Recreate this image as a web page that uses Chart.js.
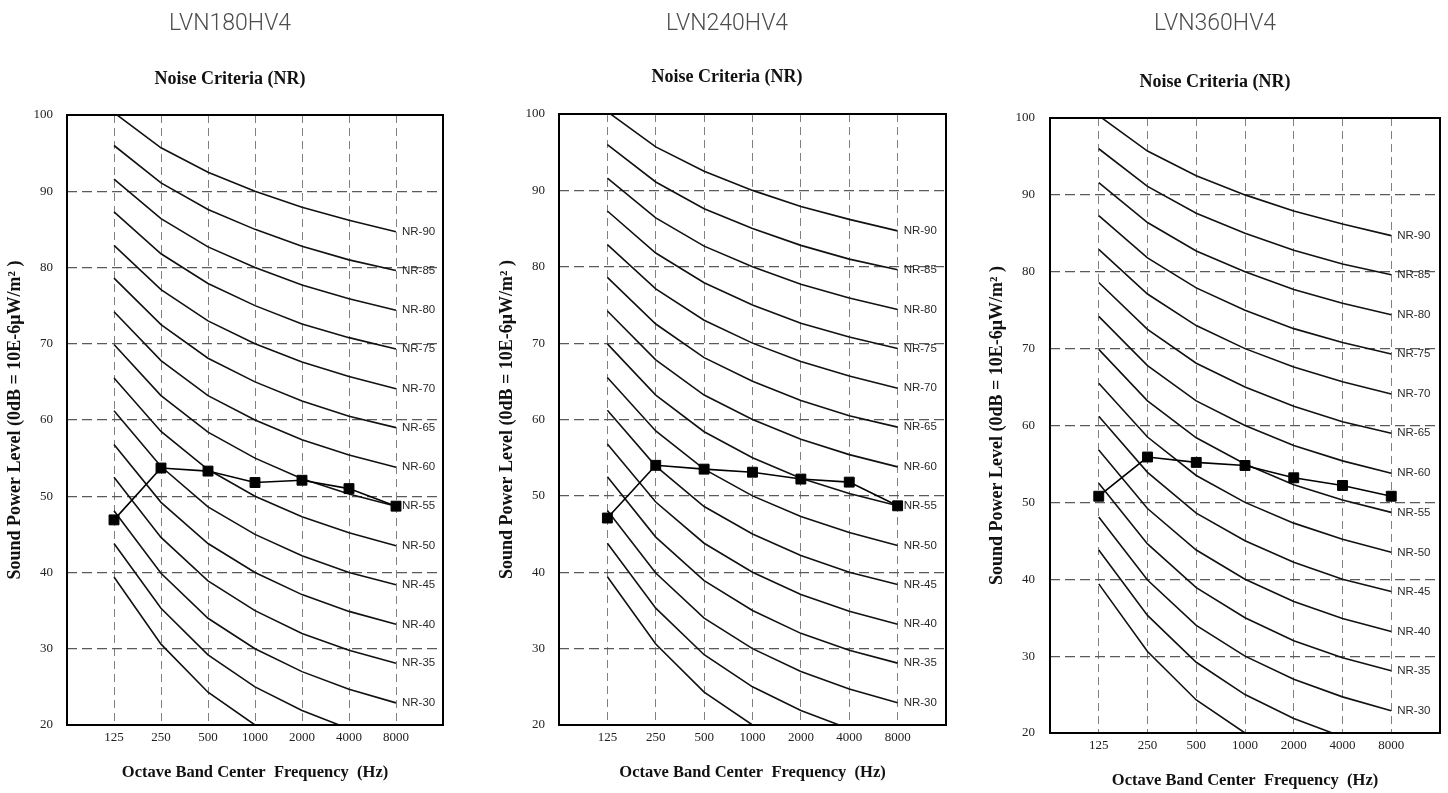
<!DOCTYPE html>
<html>
<head>
<meta charset="utf-8">
<script src="https://cdn.jsdelivr.net/npm/chart.js@4.4.1/dist/chart.umd.min.js"></script>
<style>
html,body{margin:0;padding:0;background:#fff;overflow:hidden;}
body{width:1448px;height:793px;position:relative;}
.box{position:absolute;top:0;height:793px;}
</style>
</head>
<body>
<div class="box" id="b0"><canvas id="c0"></canvas></div>
<div class="box" id="b1"><canvas id="c1"></canvas></div>
<div class="box" id="b2"><canvas id="c2"></canvas></div>
<script>
// ---- data ----
const frequencies = ['125', '250', '500', '1000', '2000', '4000', '8000'];
const chartTitles = ['LVN180HV4', 'LVN240HV4', 'LVN360HV4'];
const subtitleText = 'Noise Criteria (NR)';
const xAxisTitle = 'Octave Band Center  Frequency  (Hz)';
const yAxisTitle = 'Sound Power Level (0dB = 10E-6\u03bcW/m\u00b2 )';
const yMin = 20, yMax = 100, yStep = 10;

const nrNames = ['NR-20','NR-25','NR-30','NR-35','NR-40','NR-45','NR-50','NR-55','NR-60','NR-65','NR-70','NR-75','NR-80','NR-85','NR-90'];
const nr20 = [39.4, 30.6, 24.3, 20.0, 16.8, 14.4, 12.6];
const nr25 = [43.8, 35.3, 29.2, 25.0, 21.9, 19.5, 17.8];
const nr30 = [48.1, 39.9, 34.0, 30.0, 27.0, 24.7, 22.9];
const nr35 = [52.5, 44.6, 38.9, 35.0, 32.0, 29.8, 28.1];
const nr40 = [56.8, 49.2, 43.8, 40.0, 37.1, 34.9, 33.2];
const nr45 = [61.2, 53.9, 48.6, 45.0, 42.2, 40.0, 38.4];
const nr50 = [65.5, 58.5, 53.5, 50.0, 47.3, 45.2, 43.5];
const nr55 = [69.9, 63.2, 58.4, 55.0, 52.3, 50.3, 48.7];
const nr60 = [74.2, 67.8, 63.2, 60.0, 57.4, 55.4, 53.8];
const nr65 = [78.6, 72.5, 68.1, 65.0, 62.5, 60.5, 59.0];
const nr70 = [82.9, 77.1, 73.0, 70.0, 67.6, 65.7, 64.1];
const nr75 = [87.3, 81.8, 77.9, 75.0, 72.6, 70.8, 69.3];
const nr80 = [91.6, 86.4, 82.7, 80.0, 77.7, 75.9, 74.4];
const nr85 = [96.0, 91.1, 87.6, 85.0, 82.8, 81.0, 79.6];
const nr90 = [100.3, 95.7, 92.5, 90.0, 87.9, 86.2, 84.7];
const nrCurves = [nr20, nr25, nr30, nr35, nr40, nr45, nr50, nr55, nr60, nr65, nr70, nr75, nr80, nr85, nr90];

const lvn180 = [46.9, 53.7, 53.3, 51.8, 52.1, 51.0, 48.7];
const lvn240 = [47.1, 54.0, 53.5, 53.1, 52.2, 51.8, 48.7];
const lvn360 = [50.8, 55.9, 55.2, 54.8, 53.2, 52.2, 50.8];
const measured = [lvn180, lvn240, lvn360];

// ---- layout (positions / sizes, per panel) ----
const H = 793;
const panels = [
  {left: 0,   width: 460, yAxisW: 67, padRight: 17, titleY: 24, subY: 79, plotTop: 115, plotBottom: 725, xTitleY: 773, yTickPad: 14},
  {left: 492, width: 470, yAxisW: 67, padRight: 16, titleY: 24, subY: 77, plotTop: 114, plotBottom: 725, xTitleY: 773, yTickPad: 14},
  {left: 982, width: 466, yAxisW: 68, padRight: 8,  titleY: 24, subY: 82, plotTop: 118, plotBottom: 733, xTitleY: 781, yTickPad: 15}
];

const toXY = arr => arr.map((v, i) => ({x: i + 1, y: v}));

const framePlugin = {
  id: 'frame',
  afterDraw(chart) {
    const a = chart.chartArea, ctx = chart.ctx;
    ctx.save();
    ctx.strokeStyle = '#000';
    ctx.lineWidth = 2;
    ctx.setLineDash([]);
    ctx.strokeRect(a.left, a.top, a.right - a.left, a.bottom - a.top);
    ctx.restore();
  }
};

const nrLabelPlugin = {
  id: 'nrLabels',
  afterDatasetsDraw(chart) {
    const ctx = chart.ctx, a = chart.chartArea;
    ctx.save();
    ctx.font = '11.5px "Liberation Sans", Arial, sans-serif';
    ctx.fillStyle = '#2a2a2a';
    ctx.textAlign = 'left';
    ctx.textBaseline = 'middle';
    chart.data.datasets.forEach((ds, i) => {
      if (!ds.nrLabel) return;
      const meta = chart.getDatasetMeta(i);
      const pt = meta.data[meta.data.length - 1];
      if (!pt || pt.y > a.bottom || pt.y < a.top) return;
      ctx.fillText(ds.nrLabel, pt.x + 6, pt.y);
    });
    ctx.restore();
  }
};

panels.forEach((p, k) => {
  const box = document.getElementById('b' + k);
  box.style.left = p.left + 'px';
  box.style.width = p.width + 'px';

  const datasets = [{
    label: chartTitles[k],
    data: toXY(measured[k]),
    borderColor: '#000',
    borderWidth: 1.6,
    backgroundColor: '#000',
    pointStyle: 'rect',
    pointRadius: 7,
    pointBorderWidth: 1,
    pointBackgroundColor: '#000',
    pointBorderColor: '#000',
    tension: 0
  }];
  nrCurves.forEach((c, j) => {
    datasets.push({
      label: nrNames[j],
      nrLabel: nrNames[j],
      data: toXY(c),
      borderColor: '#111',
      borderWidth: 1.6,
      pointRadius: 0,
      tension: 0
    });
  });

  const titleFont = 23, subFont = 18;
  const tLH = titleFont * 1.2, sLH = subFont * 1.2;
  const xtFont = 16.5, xtLH = xtFont * 1.2;
  const ytFont = 18, ytLH = ytFont * 1.2;
  const tickFont = 13;

  new Chart(document.getElementById('c' + k), {
    type: 'line',
    data: {datasets},
    plugins: [framePlugin, nrLabelPlugin],
    options: {
      responsive: true,
      maintainAspectRatio: false,
      animation: false,
      events: [],
      layout: {padding: 0},
      plugins: {
        legend: {display: false},
        tooltip: {enabled: false},
        title: {
          display: true,
          text: chartTitles[k],
          color: '#4d4d4d',
          font: {family: 'Roboto, "Liberation Sans", sans-serif', size: titleFont, weight: '300', lineHeight: 1.2},
          padding: {top: p.titleY - tLH / 2, bottom: p.subY - sLH / 2 - (p.titleY + tLH / 2)}
        },
        subtitle: {
          display: true,
          text: subtitleText,
          color: '#111',
          font: {family: '"Liberation Serif", "Times New Roman", serif', size: subFont, weight: 'bold', lineHeight: 1.2},
          padding: {top: 0, bottom: p.plotTop - (p.subY + sLH / 2)}
        }
      },
      scales: {
        x: {
          type: 'linear',
          position: 'bottom',
          min: 0,
          max: frequencies.length + 1,
          afterBuildTicks: s => { s.ticks = frequencies.map((f, i) => ({value: i + 1})); },
          afterFit: s => { s.height = H - p.plotBottom; },
          ticks: {
            callback: v => frequencies[v - 1] || '',
            color: '#222',
            padding: 5,
            maxRotation: 0,
            autoSkip: false,
            font: {family: '"Liberation Serif", "Times New Roman", serif', size: tickFont, lineHeight: 1.2}
          },
          grid: {color: '#808080', lineWidth: 1, drawTicks: false},
          border: {display: false, dash: [8, 5]},
          title: {
            display: true,
            text: xAxisTitle,
            color: '#111',
            font: {family: '"Liberation Serif", "Times New Roman", serif', size: xtFont, weight: 'bold', lineHeight: 1.2},
            padding: {top: 0, bottom: H - p.xTitleY - xtLH / 2}
          }
        },
        y: {
          type: 'linear',
          position: 'left',
          min: yMin,
          max: yMax,
          afterFit: s => { s.width = p.yAxisW; },
          ticks: {
            stepSize: yStep,
            color: '#222',
            padding: p.yTickPad,
            font: {family: '"Liberation Serif", "Times New Roman", serif', size: tickFont}
          },
          grid: {color: '#5a5a5a', lineWidth: 1.2, drawTicks: false},
          border: {display: false, dash: [10, 5]},
          title: {
            display: true,
            text: yAxisTitle,
            color: '#111',
            font: {family: '"Liberation Serif", "Times New Roman", serif', size: ytFont, weight: 'bold', lineHeight: 1.2},
            padding: {top: 15 - ytLH / 2, bottom: 0}
          }
        },
        yRight: {
          type: 'linear',
          position: 'right',
          display: true,
          afterFit: s => { s.width = p.padRight; },
          ticks: {display: false},
          grid: {display: false, drawTicks: false},
          border: {display: false}
        }
      }
    }
  });
});
</script>
</body>
</html>
